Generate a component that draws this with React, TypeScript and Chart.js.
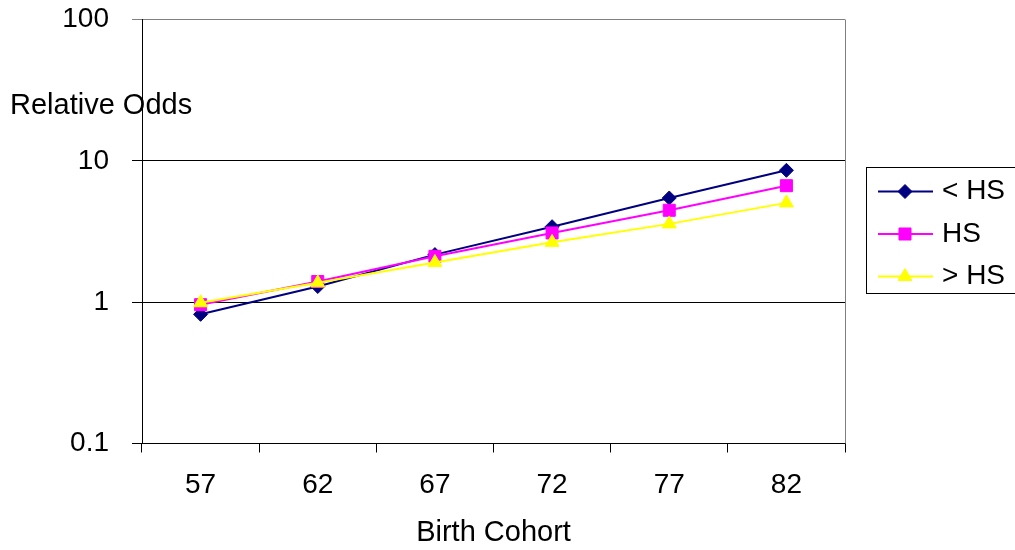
import React, { useEffect, useRef } from 'react';
import { Chart, registerables } from 'chart.js';

Chart.register(...registerables);

const categories = ['57', '62', '67', '72', '77', '82'];
const seriesNames = ['< HS', 'HS', '> HS'];
const lessHS = [0.82, 1.29, 2.17, 3.42, 5.46, 8.57];
const hs = [0.96, 1.4, 2.11, 3.09, 4.47, 6.67];
const moreHS = [0.99, 1.37, 1.91, 2.65, 3.58, 5.04];
const yTickValues = [0.1, 1, 10, 100];
const yTickLabels = ['0.1', '1', '10', '100'];
const xTitle = 'Birth Cohort';
const yTitle = 'Relative Odds';

const FONT = '"Liberation Sans", Arial, sans-serif';
const colors = ['#000080', '#FF00FF', '#FFFF00'];
const styles = ['rectRot', 'rect', 'triangle'];
const radii = [7, 8.5, 8];

function drawMarker(ctx: CanvasRenderingContext2D, style: string, x: number, y: number, r: number, color: string) {
  ctx.save();
  ctx.fillStyle = color;
  ctx.strokeStyle = color;
  ctx.lineWidth = 1;
  ctx.beginPath();
  if (style === 'rectRot') {
    ctx.moveTo(x, y - r);
    ctx.lineTo(x + r, y);
    ctx.lineTo(x, y + r);
    ctx.lineTo(x - r, y);
    ctx.closePath();
  } else if (style === 'rect') {
    const s = r * Math.SQRT1_2;
    ctx.rect(x - s, y - s, 2 * s, 2 * s);
  } else {
    const w = r * Math.sqrt(3) / 2;
    ctx.moveTo(x, y - r);
    ctx.lineTo(x + w, y + r / 2);
    ctx.lineTo(x - w, y + r / 2);
    ctx.closePath();
  }
  ctx.fill();
  ctx.stroke();
  ctx.restore();
}

const decorPlugin = {
  id: 'decor',
  afterDraw(chart: any) {
    const { ctx, chartArea: a } = chart;
    ctx.save();
    // right border of plot area
    ctx.strokeStyle = '#808080';
    ctx.lineWidth = 1;
    const rx = Math.round(a.right) + 0.5;
    ctx.beginPath();
    ctx.moveTo(rx, a.top);
    ctx.lineTo(rx, a.bottom);
    ctx.stroke();

    // axis titles
    ctx.fillStyle = '#000';
    ctx.font = `29px ${FONT}`;
    ctx.textBaseline = 'middle';
    ctx.textAlign = 'left';
    ctx.fillText(yTitle, 10, 106);
    ctx.textAlign = 'center';
    ctx.fillText(xTitle, (a.left + a.right) / 2, 532.5);

    // legend
    const lx = 866.5;
    const ly = 167.5;
    ctx.strokeStyle = '#000';
    ctx.lineWidth = 1;
    ctx.strokeRect(lx, ly, 200, 126);
    ctx.font = `28px ${FONT}`;
    ctx.textAlign = 'left';
    chart.data.datasets.forEach((ds: any, i: number) => {
      const y = 191.5 + i * 42.5;
      ctx.strokeStyle = ds.borderColor;
      ctx.lineWidth = 2;
      ctx.beginPath();
      ctx.moveTo(878, y);
      ctx.lineTo(933, y);
      ctx.stroke();
      drawMarker(ctx, ds.pointStyle, 905, y, ds.pointRadius, ds.pointBackgroundColor);
      ctx.fillStyle = '#000';
      ctx.fillText(ds.label, 942, y);
    });
    ctx.restore();
  },
};

export default function App() {
  const ref = useRef<HTMLCanvasElement>(null);
  useEffect(() => {
    if (!ref.current) return;
    const seriesData = [lessHS, hs, moreHS];
    const chart = new Chart(ref.current, {
      type: 'line',
      data: {
        labels: categories,
        datasets: seriesNames.map((name, i) => ({
          label: name,
          data: seriesData[i],
          borderColor: colors[i],
          backgroundColor: colors[i],
          pointBackgroundColor: colors[i],
          pointBorderColor: colors[i],
          pointStyle: styles[i] as any,
          pointRadius: radii[i],
          pointHoverRadius: radii[i],
          pointBorderWidth: 1,
          borderWidth: 2,
          tension: 0,
          fill: false,
          order: 3 - i,
        })),
      },
      options: {
        responsive: false,
        animation: false,
        events: [],
        layout: { padding: { left: 0, right: 170, top: 19.5, bottom: 0 } },
        plugins: {
          legend: { display: false },
          tooltip: { enabled: false },
          title: { display: false },
        },
        scales: {
          x: {
            type: 'category',
            offset: true,
            grid: {
              offset: true,
              color: 'rgba(0,0,0,0)',
              tickColor: '#000',
              tickLength: 9,
              lineWidth: 1,
            },
            border: { display: true, color: '#000', width: 1 },
            ticks: {
              color: '#000',
              font: { family: FONT, size: 28 },
              padding: 16,
              maxRotation: 0,
              autoSkip: false,
            },
            afterFit: (s: any) => {
              s.height = 106.5;
              s.paddingLeft = 0;
              s.paddingRight = 0;
              s.paddingTop = 0;
              s.paddingBottom = 0;
            },
          },
          y: {
            type: 'logarithmic',
            min: 0.1,
            max: 100,
            afterBuildTicks: (s: any) => {
              s.ticks = yTickValues.map((v) => ({ value: v }));
            },
            grid: {
              color: (c: any) => (c.tick && c.tick.value === 100 ? '#808080' : '#000'),
              tickColor: (c: any) => (c.tick && c.tick.value === 100 ? '#808080' : '#000'),
              tickLength: 10,
              lineWidth: 1,
            },
            border: { display: true, color: '#000', width: 1 },
            ticks: {
              color: '#000',
              font: { family: FONT, size: 28 },
              padding: 23,
              callback: (v: any) => {
                const i = yTickValues.indexOf(Number(v));
                return i >= 0 ? yTickLabels[i] : '';
              },
            },
            afterFit: (s: any) => {
              s.width = 142;
              s.paddingTop = 0;
              s.paddingBottom = 0;
              s.paddingLeft = 0;
              s.paddingRight = 0;
            },
          },
        },
      },
      plugins: [decorPlugin],
    });
    return () => chart.destroy();
  }, []);
  return (
    <div style={{ position: 'fixed', left: 0, top: 0, width: 1015, height: 550, background: '#fff' }}>
      <canvas ref={ref} width={1015} height={550} style={{ display: 'block' }} />
    </div>
  );
}
